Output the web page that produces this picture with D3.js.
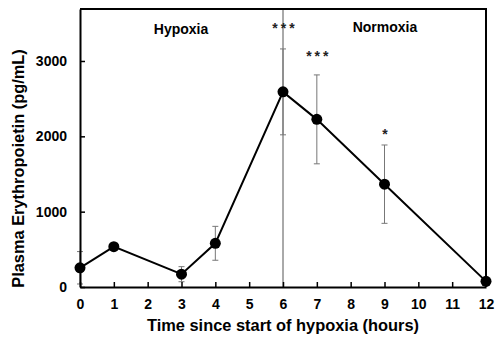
<!DOCTYPE html>
<html>
<head>
<meta charset="utf-8">
<script src="https://cdn.jsdelivr.net/npm/d3@7"></script>
<style>
  body { margin: 0; background: #fff; }
  text { font-family: "Liberation Sans", Arial, sans-serif; font-weight: bold; }
</style>
</head>
<body>
<div class="epoChart"></div>
<script>
const hours = [0, 1, 3, 4, 6, 7, 9, 12]
const epo = [255, 535, 170, 580, 2590, 2225, 1365, 75]
const epoErr = [215, 40, 100, 225, 570, 590, 520, 0]
const stars = [null, null, null, null, '***', '***', '*', null]
const starLevel = [null, null, null, null, 3480, 3100, 2070, null]
const xTicks = [0, 1, 2, 3, 4, 5, 6, 7, 8, 9, 10, 11, 12]
const yTicks = [0, 1000, 2000, 3000]

const width = 500, height = 348
const margin = { top: 9, right: 14, bottom: 61, left: 80 }

const svg = d3.select('.epoChart')
    .append('svg')
    .attr('width', width)
    .attr('height', height)

const x = d3.scaleLinear()
    .domain([0, 12])
    .range([margin.left, width - margin.right])

const y = d3.scaleLinear()
    .domain([0, 3690])
    .range([height - margin.bottom, margin.top])

const data = hours.map((h, i) => ({ h, v: epo[i], e: epoErr[i], s: stars[i], sl: starLevel[i] }))

// hypoxia / normoxia divider
svg.append('line')
    .attr('x1', x(6)).attr('x2', x(6))
    .attr('y1', y.range()[1]).attr('y2', y.range()[0])
    .attr('stroke', '#555')
    .attr('stroke-width', 1)

// error bars
const eb = svg.append('g')
    .attr('stroke', '#777')
    .attr('stroke-width', 1)
    .selectAll('g')
    .data(data.filter(d => d.e > 0))
    .join('g')
eb.append('line')
    .attr('x1', d => x(d.h)).attr('x2', d => x(d.h))
    .attr('y1', d => y(d.v - d.e)).attr('y2', d => y(d.v + d.e))
eb.append('line')
    .attr('x1', d => x(d.h) - 3).attr('x2', d => x(d.h) + 3)
    .attr('y1', d => y(d.v + d.e)).attr('y2', d => y(d.v + d.e))
eb.append('line')
    .attr('x1', d => x(d.h) - 3).attr('x2', d => x(d.h) + 3)
    .attr('y1', d => y(d.v - d.e)).attr('y2', d => y(d.v - d.e))

// line + points
svg.append('path')
    .datum(data)
    .attr('fill', 'none')
    .attr('stroke', '#000')
    .attr('stroke-width', 2)
    .attr('d', d3.line().x(d => x(d.h)).y(d => y(d.v)))

svg.append('g')
    .selectAll('circle')
    .data(data)
    .join('circle')
    .attr('cx', d => x(d.h))
    .attr('cy', d => y(d.v))
    .attr('r', 5.5)
    .attr('fill', '#000')

// significance stars
svg.append('g')
    .selectAll('text')
    .data(data.filter(d => d.s))
    .join('text')
    .attr('x', d => x(d.h) + 2)
    .attr('y', d => y(d.sl))
    .attr('dy', '0.55em')
    .attr('text-anchor', 'middle')
    .attr('font-size', 14)
    .attr('letter-spacing', 3)
    .attr('fill', '#222')
    .text(d => d.s)

// axes
const xAxis = svg.append('g')
    .attr('transform', `translate(0,${y(0)})`)
    .call(d3.axisBottom(x).tickValues(xTicks).tickSizeInner(-5).tickSizeOuter(0).tickPadding(12))
xAxis.select('.domain').attr('stroke-width', 2)
xAxis.selectAll('.tick line').attr('stroke-width', 1.5)
xAxis.selectAll('text').attr('font-size', 14).attr('fill', '#000')

const yAxis = svg.append('g')
    .attr('transform', `translate(${x(0)},0)`)
    .call(d3.axisLeft(y).tickValues(yTicks).tickFormat(d3.format('d')).tickSizeInner(-5).tickSizeOuter(0).tickPadding(13))
yAxis.select('.domain').attr('stroke-width', 2)
yAxis.selectAll('.tick line').attr('stroke-width', 1.5)
yAxis.selectAll('text').attr('font-size', 14).attr('fill', '#000')

// frame top + right
svg.append('path')
    .attr('fill', 'none')
    .attr('stroke', '#000')
    .attr('stroke-width', 2)
    .attr('d', `M${x(0)},${y.range()[1]}H${x(12)}V${y(0)}`)

// phase labels
svg.append('text')
    .attr('x', 181).attr('y', 34)
    .attr('text-anchor', 'middle')
    .attr('font-size', 14)
    .text('Hypoxia')
svg.append('text')
    .attr('x', 385).attr('y', 32)
    .attr('text-anchor', 'middle')
    .attr('font-size', 14)
    .text('Normoxia')

// axis titles
svg.append('text')
    .attr('x', (x(0) + x(12)) / 2)
    .attr('y', 331)
    .attr('text-anchor', 'middle')
    .attr('font-size', 16.4)
    .text('Time since start of hypoxia (hours)')

svg.append('text')
    .attr('transform', 'translate(24,168.5) rotate(-90)')
    .attr('text-anchor', 'middle')
    .attr('font-size', 16.4)
    .text('Plasma Erythropoietin (pg/mL)')
</script>
</body>
</html>
